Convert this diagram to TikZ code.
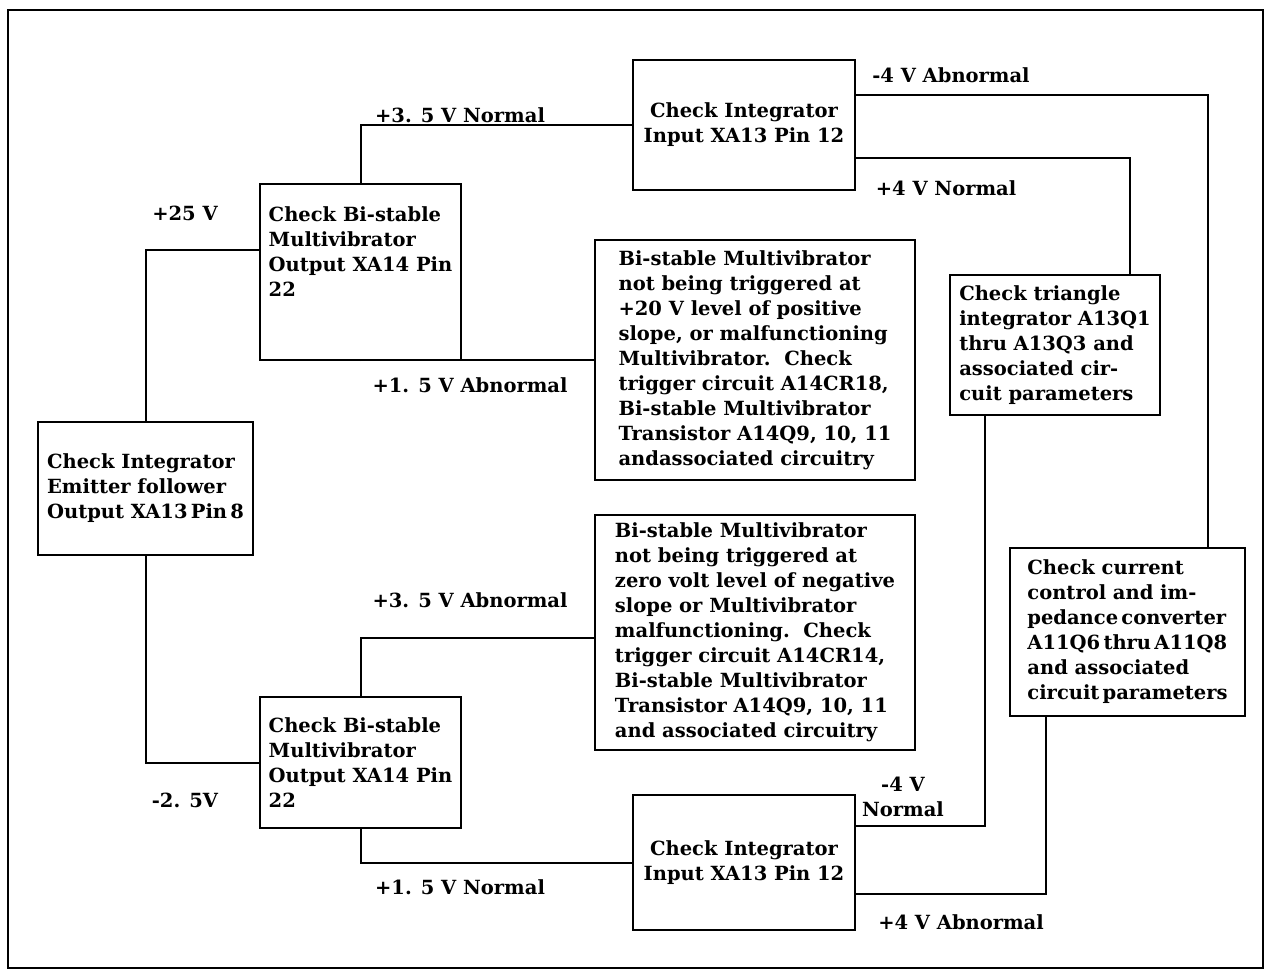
\documentclass[tikz,border=0pt]{standalone}
\usepackage{fontspec}
\setmainfont{DejaVu Serif}

\begin{document}
\begin{tikzpicture}[x=1pt, y=-1pt,
    box/.style={draw, line width=2.4pt, inner sep=0pt, align=left,
      font=\fontsize{19.5}{25}\selectfont\bfseries},
    lbl/.style={inner sep=0pt, font=\fontsize{19.5}{25}\selectfont\bfseries},
    wire/.style={line width=2pt}]
    \useasboundingbox (0, 0) rectangle (1265, 971);
    \draw[line width=2pt] (8, 10) rectangle (1263, 968);

    \node[box, minimum width=215pt, minimum height=133pt] (A) at (145.5, 488.5)
        {Check Integrator\\Emitter follower\\Output XA13\,Pin\,8};
    \node[box, minimum width=201pt, minimum height=176pt] (B1) at (360.5, 272)
        {Check Bi-stable\\Multivibrator\\Output XA14 Pin\\22\\[15pt]\mbox{}};
    \node[box, minimum width=201pt, minimum height=131pt] (B2) at (360.5, 762.5)
        {Check Bi-stable\\Multivibrator\\Output XA14 Pin\\22};
    \node[box, align=center, minimum width=222pt, minimum height=130pt] (C1) at (744, 125)
        {Check Integrator\\Input XA13 Pin 12};
    \node[box, align=center, minimum width=222pt, minimum height=135pt] (C2) at (744, 862.5)
        {Check Integrator\\Input XA13 Pin 12};
    \node[box, minimum width=320pt, minimum height=240pt] (D1) at (755, 360)
        {Bi-stable Multivibrator\\not being triggered at\\+20 V level of positive\\slope, or malfunctioning\\Multivibrator.~~Check\\trigger circuit A14CR18,\\Bi-stable Multivibrator\\Transistor A14Q9, 10, 11\\andassociated circuitry};
    \node[box, minimum width=320pt, minimum height=235pt] (D2) at (755, 632.5)
        {Bi-stable Multivibrator\\not being triggered at\\zero volt level of negative\\slope or Multivibrator\\malfunctioning.~~Check\\trigger circuit A14CR14,\\Bi-stable Multivibrator\\Transistor A14Q9, 10, 11\\and associated circuitry};
    \node[box, minimum width=210pt, minimum height=140pt] (T) at (1055, 345)
        {Check triangle\\integrator A13Q1\\thru A13Q3 and\\associated cir-\\cuit parameters};
    \node[box, minimum width=235pt, minimum height=168pt] (K) at (1127.5, 632)
        {Check current\\control and im-\\pedance\,converter\\A11Q6\,thru\,A11Q8\\and associated\\circuit\,parameters};

    \node[lbl] (v25) at (185, 213) {+25 V};
    \node[lbl] (v35n) at (460, 115) {+3. 5 V Normal};
    \node[lbl] (v15a) at (470, 385) {+1. 5 V Abnormal};
    \node[lbl] (v4a) at (951, 75) {-4 V Abnormal};
    \node[lbl] (v4n) at (946, 188) {+4 V Normal};
    \node[lbl, align=center] (v4nb) at (903, 797) {-4 V\\Normal};
    \node[lbl] (v4ab) at (961, 922) {+4 V Abnormal};
    \node[lbl] (v25m) at (185, 800) {-2. 5V};
    \node[lbl] (v35a) at (470, 600) {+3. 5 V Abnormal};
    \node[lbl] (v15n) at (460, 887) {+1. 5 V Normal};

    \draw[wire] (A.north) |- ([yshift=22pt]B1.west);
    \draw[wire] (A.south) |- (B2.west);
    \draw[wire] (B1.north) |- (C1.west);
    \draw[wire] (B1.south) |- (D1.west);
    \draw[wire] (B2.north) |- ([yshift=-5pt]D2.west);
    \draw[wire] (B2.south) |- (C2.west);
    \draw[wire] ([yshift=30pt]C1.east) -| ([xshift=80pt]K.north);
    \draw[wire] ([yshift=-33pt]C1.east) -| ([xshift=75pt]T.north);
    \draw[wire] ([xshift=-70pt]T.south) |- ([yshift=37pt]C2.east);
    \draw[wire] ([xshift=-82pt]K.south) |- ([yshift=-31pt]C2.east);
\end{tikzpicture}
\end{document}
